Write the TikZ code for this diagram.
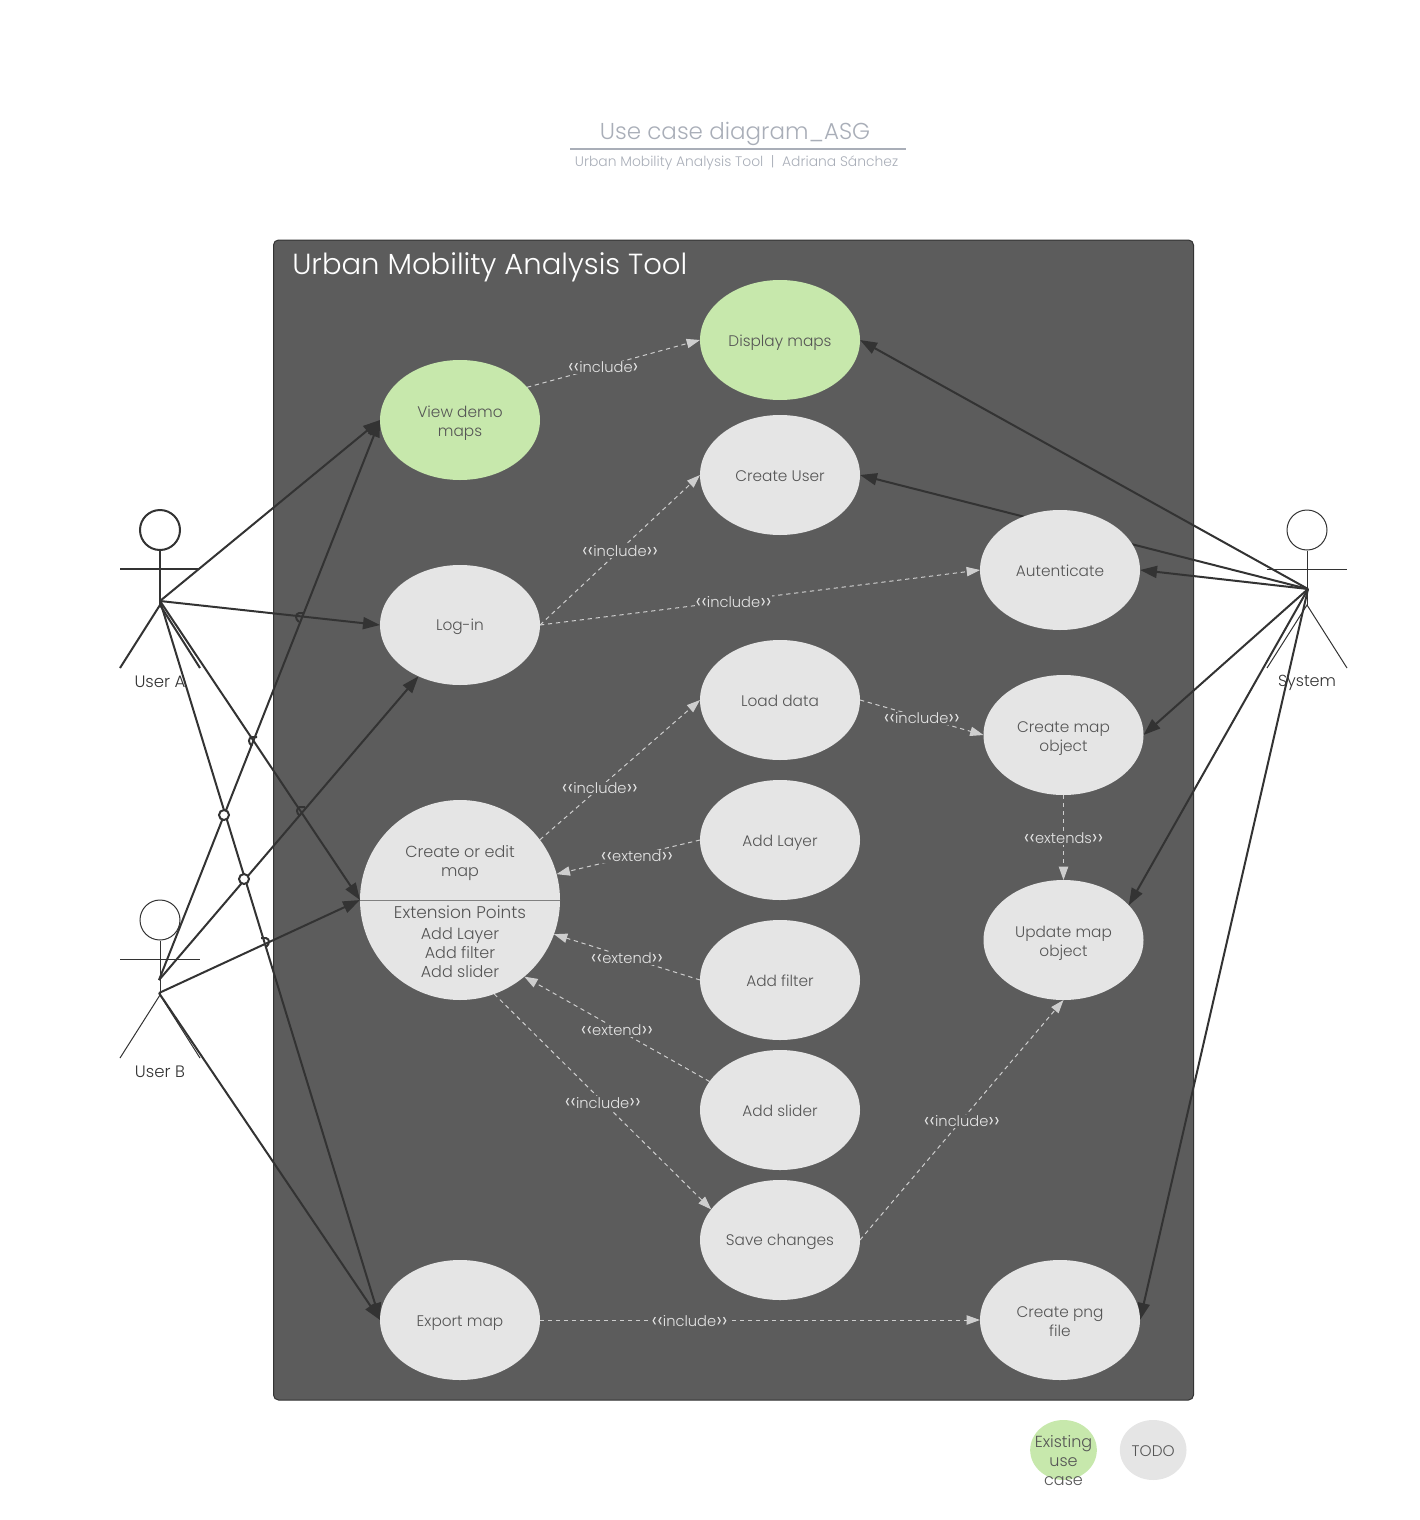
\documentclass[tikz,border=0pt]{standalone}
\usepackage{fontspec}
\setmainfont{Poppins Light}
\usetikzlibrary{positioning, shapes, arrows.meta}

\pgfdeclarelayer{frame}
\pgfdeclarelayer{wires}
\pgfsetlayers{frame,wires,main}

\definecolor{boxgray}{HTML}{5C5C5C}
\definecolor{casegray}{HTML}{E5E5E5}
\definecolor{casegreen}{HTML}{C7E8AC}
\definecolor{textgray}{HTML}{555555}
\definecolor{wiredark}{HTML}{333333}
\definecolor{titlegray}{HTML}{A9AEB8}

\tikzset{
  lifted/.style={execute at begin node={\rule{0pt}{12pt}}, execute at end node={\rule[-2.7pt]{0pt}{2.7pt}}},
  twoline/.style={execute at begin node={\rule{0pt}{27.5pt}}},
  usecase/.style={ellipse, fill=casegray, text=textgray, font=\fontsize{11.5}{14.25}\selectfont, align=center, minimum width=120pt, minimum height=90pt, inner sep=0pt, outer sep=0pt, lifted},
  existing/.style={usecase, fill=casegreen},
  legendcase/.style={usecase, minimum width=50pt, minimum height=45pt},
  plain/.style={text=textgray, font=\fontsize{12}{14.25}\selectfont, align=center, inner sep=0pt, lifted},
  wire/.style={draw=wiredark, line width=1.5pt, -{Triangle[length=12.75pt,width=9pt]}},
  dep/.style={draw=casegray, line width=0.75pt, dash pattern=on 3.2pt off 2.8pt, -{Triangle[length=10pt,width=7pt]}, color=casegray!90!black},
  deplabel/.style={pos=#1, fill=boxgray, text=casegray, font=\fontsize{11}{14}\selectfont, inner sep=0.5pt, yshift=-1pt},
  deplabel/.default=0.5,
  stick/.style={draw=wiredark, line width=0.75pt},
  heavystick/.style={draw=wiredark, line width=1.5pt},
}

\newcommand{\hopleft}[2]{\draw[draw=wiredark, line width=1.5pt] (#1+6,#2-4) -- (#1+1,#2-4) .. controls (#1-3,#2-3) and (#1-3,#2+2) .. (#1+1,#2+5);}
\newcommand{\hopright}[2]{\draw[draw=wiredark, line width=1.5pt] (#1-6,#2-4) -- (#1-1,#2-4) .. controls (#1+3,#2-3) and (#1+3,#2+2) .. (#1-1,#2+5);}
\newcommand{\guil}[1]{{\fontsize{16}{14}\selectfont\raisebox{-0.7pt}{#1}}}

\begin{document}
\begin{tikzpicture}[x=0.75pt, y=-0.75pt]
\useasboundingbox (0,0) rectangle (1420,1520);

% Title
\node[text=titlegray, font=\fontsize{17.25}{20}\selectfont] (title) at (735,134) {Use case diagram\_ASG};
\node[text=titlegray, font=\fontsize{10.4}{12}\selectfont] (subtitle) at (736.5,163) {Urban Mobility Analysis Tool\ \ |\ \ Adriana Sánchez};
\draw[titlegray, line width=1.5pt] (570,149) -- (906,149);

% System boundary
\begin{pgfonlayer}{frame}
\draw[fill=boxgray, draw=wiredark, line width=0.75pt, rounded corners=3.75pt] (273.5,240) rectangle (1193.5,1400);
\end{pgfonlayer}
\node[anchor=west, text=white, font=\fontsize{21.8}{24}\selectfont, inner sep=0pt] (boxtitle) at (292,267) {Urban Mobility Analysis Tool};

% Left column
\node[existing, twoline] (viewdemo) at (460,420) {View demo\\maps};
\node[usecase, below=63.75pt of viewdemo] (login) {Log-in};
\node[usecase, minimum width=150pt, minimum height=150pt] (createedit) at (460,900) {};
\node[usecase] (export) at (460,1320) {Export map};

% Extension points of the big circle
\draw[draw=gray, line width=0.75pt] (createedit.west) -- (createedit.east);
\node[plain] (createedittext) at (460,863.5) {Create or edit\\map};
\node[plain, font=\fontsize{12.7}{14.25}\selectfont] (extpoints) at (460,912.5) {Extension Points};
\node[plain] (extlist) at (460,954) {Add Layer\\Add filter\\Add slider};

% Middle column
\node[existing] (display) at (780,340) {Display maps};
\node[usecase, below=11.25pt of display] (createuser) {Create User};
\node[usecase, below=78.75pt of createuser] (loaddata) {Load data};
\node[usecase, below=15pt of loaddata] (addlayer) {Add Layer};
\node[usecase, below=15pt of addlayer] (addfilter) {Add filter};
\node[usecase, below=7.5pt of addfilter] (addslider) {Add slider};
\node[usecase, below=7.5pt of addslider] (savechanges) {Save changes};

% Right column
\node[usecase] (autenticate) at (1060,570) {Autenticate};
\node[usecase, twoline] (createmap) at (1063.5,735) {Create map\\object};
\node[usecase, twoline, below=63.75pt of createmap] (updatemap) {Update map\\object};
\node[usecase, twoline] (createpng) at (1060,1320) {Create png\\file};

% Legend
\node[legendcase, fill=casegreen] (legendexisting) at (1063.5,1450) {};
\node[plain] (legendexistingtext) at (1063.5,1462) {Existing\\use\\case};
\node[legendcase, right=17.25pt of legendexisting] (legendtodo) {TODO};

% Actors
\begin{pgfonlayer}{frame}
\node[circle, heavystick, minimum size=30pt, inner sep=0pt] (useraheadnode) at (160,530) {};
\coordinate (userahip) at (160,605);
\draw[heavystick] (useraheadnode.south) -- (userahip);
\draw[heavystick] (120,569) -- (198,569);
\draw[heavystick] (120,668) -- (userahip) -- (200,668);
\node[plain, text=wiredark, font=\fontsize{12.4}{14.25}\selectfont] (useralabel) at (160,681) {User A};

\node[circle, stick, minimum size=30pt, inner sep=0pt] (userbheadnode) at (160,920) {};
\coordinate (userbhip) at (160,995);
\draw[stick] (userbheadnode.south) -- (userbhip);
\draw[stick] (120,959) -- (200,959);
\draw[stick] (120,1058) -- (userbhip) -- (200,1058);
\node[plain, text=wiredark, font=\fontsize{12.4}{14.25}\selectfont] (userblabel) at (160,1071) {User B};

\node[circle, stick, minimum size=30pt, inner sep=0pt] (systemheadnode) at (1307,530) {};
\coordinate (systemhip) at (1307,605);
\draw[stick] (systemheadnode.south) -- (systemhip);
\draw[stick] (1267,569) -- (1347,569);
\draw[stick] (1267,668) -- (systemhip) -- (1347,668);
\node[plain, text=wiredark] (systemlabel) at (1307,681) {System};
\end{pgfonlayer}

\coordinate (userahub) at (160,601);
\coordinate (userbhub) at (159,980);
\coordinate (userbhublow) at (159,993);
\coordinate (systemhub) at (1308,589);

\begin{pgfonlayer}{wires}
% Actor arrows
\draw[wire] (userahub) -- (viewdemo.west);
\draw[wire] (userahub) -- (login.west);
\draw[wire] (userahub) -- (createedit.west);
\draw[wire] (userahub) -- (export.west);
\draw[wire] (userbhub) -- (viewdemo.west);
\draw[wire] (userbhub) -- (login.231);
\draw[wire] (userbhublow) -- (createedit.west);
\draw[wire] (userbhublow) -- (export.west);
\draw[wire] (systemhub) -- (display.east);
\draw[wire] (systemhub) -- (createuser.east);
\draw[wire] (systemhub) -- (autenticate.east);
\draw[wire] (systemhub) -- (createmap.east);
\draw[wire] (systemhub) -- (updatemap.28);
\draw[wire] (systemhub) -- (createpng.east);

% Line jumps
\hopleft{298}{617}
\hopleft{251}{741}
\hopleft{299}{811}
\hopright{267}{942}
\draw[wiredark, line width=1.5pt, fill=white] (224,815) circle (3.75pt);
\draw[wiredark, line width=1.5pt, fill=white] (244,879) circle (3.75pt);

% Dependencies
\draw[dep] (viewdemo.26) -- node[deplabel=0.44] {\guil{‹‹}include\guil{›}} (display.west);
\draw[dep] (login.east) -- node[deplabel] {\guil{‹‹}include\guil{››}} (createuser.west);
\draw[dep] (login.east) -- node[deplabel=0.44] {\guil{‹‹}include\guil{››}} (autenticate.west);
\draw[dep] (createedit.37) -- node[deplabel=0.375] {\guil{‹‹}include\guil{››}} (loaddata.west);
\draw[dep] (addlayer.west) -- node[deplabel=0.44] {\guil{‹‹}extend\guil{››}} (createedit.15.4);
\draw[dep] (addfilter.west) -- node[deplabel] {\guil{‹‹}extend\guil{››}} (createedit.-20);
\draw[dep] (addslider.158) -- node[deplabel] {\guil{‹‹}extend\guil{››}} (createedit.-50);
\draw[dep] (createedit.-70) -- node[deplabel] {\guil{‹‹}include\guil{››}} (savechanges.156);
\draw[dep] (savechanges.east) -- node[deplabel] {\guil{‹‹}include\guil{››}} (updatemap.south);
\draw[dep] (loaddata.east) -- node[deplabel] {\guil{‹‹}include\guil{››}} (createmap.west);
\draw[dep] (createmap.south) -- node[deplabel] {\guil{‹‹}extends\guil{››}} (updatemap.north);
\draw[dep] (export.east) -- node[deplabel=0.34] {\guil{‹‹}include\guil{››}} (createpng.west);
\end{pgfonlayer}

\end{tikzpicture}
\end{document}
